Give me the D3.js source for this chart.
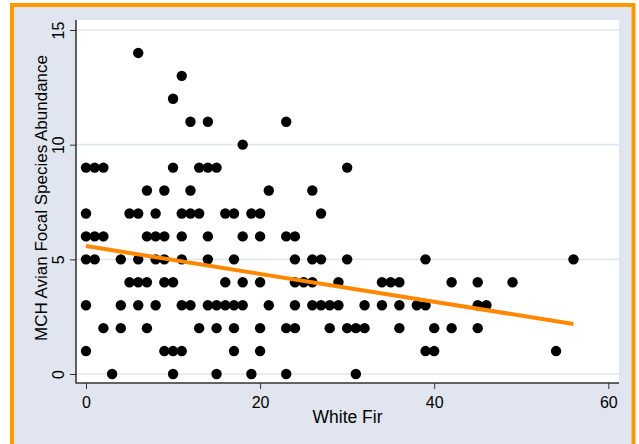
<!DOCTYPE html>
<html><head><meta charset="utf-8">
<script src="https://cdn.jsdelivr.net/npm/d3@7"></script>
<style>html,body{margin:0;padding:0;background:#fff;}svg{display:block;font-family:"Liberation Sans",Arial,sans-serif;}</style>
</head><body>
<script>
// Data: White Fir (x) by abundance (y) rows
const row0 = [3,10,15,19,23,31];
const row1 = [0,9,10,11,17,20,39,40,54];
const row2 = [2,4,7,13,15,17,20,23,24,28,30,31,32,36,40,42,45];
const row3 = [0,4,6,8,11,12,14,15,16,17,18,21,24,26,27,28,29,32,34,36,38,39,45,46];
const row4 = [5,6,7,9,10,16,18,20,24,25,26,29,34,35,36,42,45,49];
const row5 = [0,1,4,6,8,9,11,14,17,24,26,27,30,39,56];
const row6 = [0,1,2,7,8,9,11,14,18,20,23,24];
const row7 = [0,5,6,8,11,12,13,16,17,19,20,27];
const row8 = [7,9,12,21,26];
const row9 = [0,1,2,10,13,14,15,30];
const row10 = [18];
const row11 = [12,14,23];
const row12 = [10];
const row13 = [11];
const row14 = [6];
const rows = [row0,row1,row2,row3,row4,row5,row6,row7,row8,row9,row10,row11,row12,row13,row14];
const fitX = [0, 56];
const fitY = [5.58, 2.18];
const xTicks = [0, 20, 40, 60];
const yTicks = [0, 5, 10, 15];
const xTitle = "White Fir";
const yTitle = "MCH Avian Focal Species Abundance";

const points = [];
rows.forEach((r, y) => r.forEach(x => points.push({x, y})));

const W = 639, H = 444;
const svg = d3.select("body").append("svg").attr("width", W).attr("height", H);

// outer frame
svg.append("rect").attr("x", 12).attr("y", 5).attr("width", 621.5).attr("height", 460)
  .attr("fill", "#e1e5ef").attr("stroke", "#ff9900").attr("stroke-width", 4);

const plotL = 76, plotR = 619, plotT = 20, plotB = 383;
const x = d3.scaleLinear().domain([0, 60]).range([86, 608.3]);
const y = d3.scaleLinear().domain([0, 15]).range([374, 30]);

svg.append("rect").attr("x", plotL).attr("y", plotT).attr("width", plotR - plotL).attr("height", plotB - plotT).attr("fill", "#fff");

// gridlines
svg.append("g").selectAll("line").data(yTicks).join("line")
  .attr("x1", plotL).attr("x2", plotR).attr("y1", d => y(d)).attr("y2", d => y(d))
  .attr("stroke", "#e3e7f0").attr("stroke-width", 1.6);

// axes
const yAxis = svg.append("g").attr("transform", `translate(${plotL},0)`)
  .call(d3.axisLeft(y).tickValues(yTicks).tickSize(6).tickPadding(6).tickFormat(d3.format("d")));
yAxis.select(".domain").remove();
yAxis.selectAll(".tick line").attr("stroke", "#333");
yAxis.selectAll(".tick text").attr("font-size", 16).attr("fill", "#000")
  .attr("x", null).attr("y", null).attr("dy", null)
  .attr("transform", "translate(-12,0) rotate(-90)").attr("text-anchor", "middle");

const xAxis = svg.append("g").attr("transform", `translate(0,${plotB})`)
  .call(d3.axisBottom(x).tickValues(xTicks).tickSize(6).tickPadding(6).tickFormat(d3.format("d")));
xAxis.select(".domain").remove();
xAxis.selectAll(".tick line").attr("stroke", "#333");
xAxis.selectAll(".tick text").attr("font-size", 16).attr("fill", "#000").attr("dy", null).attr("y", 24.5);

svg.append("line").attr("x1", plotL).attr("x2", plotL).attr("y1", plotT).attr("y2", plotB + 0.5)
  .attr("stroke", "#111").attr("stroke-width", 1.3);
svg.append("line").attr("x1", plotL).attr("x2", plotR).attr("y1", plotB).attr("y2", plotB)
  .attr("stroke", "#333").attr("stroke-width", 1.3);

// points
svg.append("g").selectAll("circle").data(points).join("circle")
  .attr("cx", d => x(d.x)).attr("cy", d => y(d.y)).attr("r", 5.2).attr("fill", "#000");

// fit line
svg.append("line").attr("x1", x(fitX[0])).attr("y1", y(fitY[0])).attr("x2", x(fitX[1])).attr("y2", y(fitY[1]))
  .attr("stroke", "#ff8800").attr("stroke-width", 4);

// titles
svg.append("text").attr("x", (plotL + plotR) / 2).attr("y", 423).attr("text-anchor", "middle")
  .attr("font-size", 17.5).attr("fill", "#000").text(xTitle);
svg.append("text").attr("transform", `translate(47,198) rotate(-90)`).attr("text-anchor", "middle")
  .attr("font-size", 17).attr("fill", "#000").text(yTitle);
</script>
</body></html>
